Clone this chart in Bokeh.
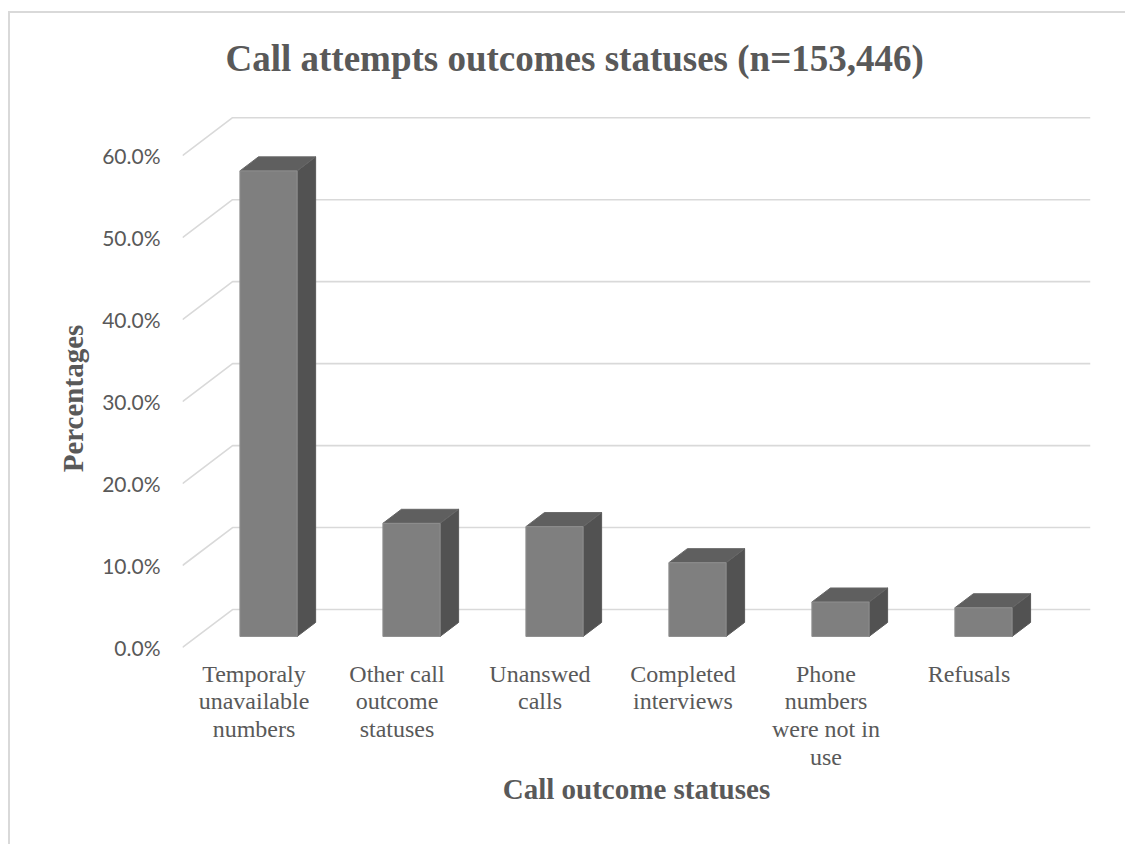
from bokeh.plotting import figure
from bokeh.models import FixedTicker, Range1d, ColumnDataSource
from bokeh.embed import file_html
from bokeh.resources import INLINE

# ---------------- data ----------------
categories = ["Temporaly unavailable numbers", "Other call outcome statuses",
              "Unanswed calls", "Completed interviews",
              "Phone numbers were not in use", "Refusals"]
category_tick_labels = ["Temporaly\nunavailable\nnumbers", "Other call\noutcome\nstatuses",
                        "Unanswed\ncalls", "Completed\ninterviews",
                        "Phone\nnumbers\nwere not in\nuse", "Refusals"]
values = [56.8, 13.8, 13.4, 9.0, 4.2, 3.5]
y_ticks = [0, 10, 20, 30, 40, 50, 60]
y_tick_labels = ["0.0%", "10.0%", "20.0%", "30.0%", "40.0%", "50.0%", "60.0%"]
title_text = "Call attempts outcomes statuses (n=153,446)"
x_title = "Call outcome statuses"
y_title = "Percentages"

# ---------------- 3-D projection settings (style) ----------------
DX = 0.35      # full depth, x units
DY = 4.63      # full depth, y units
F1 = 0.29      # bar front depth fraction
F2 = 0.66      # bar back depth fraction
HW = 0.2       # bar half width
TXT = "#595959"
SERIF = "Liberation Serif"

xs_idx = list(range(len(categories)))

p = figure(width=1125, height=844, output_backend="svg", toolbar_location=None,
           x_range=Range1d(-0.5, len(categories) - 0.5 + DX),
           y_range=Range1d(-5.25, 66),
           min_border_left=182, min_border_right=35,
           min_border_top=106, min_border_bottom=154)
p.background_fill_color = None
p.border_fill_color = None
p.outline_line_color = None
p.xgrid.visible = False
p.ygrid.visible = False
p.styles = {
    "background-image": "linear-gradient(#d9d9d9,#d9d9d9), linear-gradient(#d9d9d9,#d9d9d9)",
    "background-repeat": "no-repeat",
    "background-size": "2px 840px, 1120px 2px",
    "background-position": "8px 11px, 8px 11px",
}

# title
p.title.text = title_text
p.title.align = "left"
p.title.offset = 43
p.title.standoff = 56
p.title.text_font = SERIF
p.title.text_font_size = "37px"
p.title.text_font_style = "bold"
p.title.text_color = TXT

# gridlines: left side wall + back wall
gx, gy = [], []
x0 = -0.5
x1 = len(categories) - 0.5
for t in y_ticks:
    gx.append([x0, x0 + DX, x1 + DX])
    gy.append([t, t + DY, t + DY])
p.multi_line(gx, gy, line_color="#d9d9d9", line_width=1.6)

# bars
src = ColumnDataSource(dict(
    left=[i + F1 * DX - HW for i in xs_idx],
    right=[i + F1 * DX + HW for i in xs_idx],
    bottom=[F1 * DY for _ in xs_idx],
    top=[F1 * DY + v for v in values],
))
side_x, side_y, top_x, top_y = [], [], [], []
for i, v in zip(xs_idx, values):
    lf = i + F1 * DX - HW
    rf = i + F1 * DX + HW
    lb = i + F2 * DX - HW
    rb = i + F2 * DX + HW
    bf = F1 * DY
    bb = F2 * DY
    side_x.append([rf, rb, rb, rf])
    side_y.append([bf, bb, bb + v, bf + v])
    top_x.append([lf, rf, rb, lb])
    top_y.append([bf + v, bf + v, bb + v, bb + v])

p.patches(side_x, side_y, fill_color="#525252", line_color="#5a5a5a", line_width=1)
p.patches(top_x, top_y, fill_color="#5f5f5f", line_color="#676767", line_width=1)
p.quad(left="left", right="right", bottom="bottom", top="top", source=src,
       fill_color="#7f7f7f", line_color="#8f8f8f", line_width=1)

# x axis
xa = p.xaxis[0]
xa.ticker = FixedTicker(ticks=xs_idx)
xa.major_label_overrides = {i: lab for i, lab in zip(xs_idx, category_tick_labels)}
xa.axis_line_color = None
xa.major_tick_line_color = None
xa.minor_tick_line_color = None
xa.major_tick_out = 0
xa.major_tick_in = 0
xa.major_label_standoff = -30
xa.major_label_text_font = SERIF
xa.major_label_text_font_size = "24px"
xa.major_label_text_color = TXT
xa.major_label_text_line_height = 1.07
xa.axis_label = x_title
xa.axis_label_text_font = SERIF
xa.axis_label_text_font_size = "29px"
xa.axis_label_text_font_style = "bold"
xa.axis_label_text_color = TXT
xa.axis_label_standoff = 0

# y axis
ya = p.yaxis[0]
ya.ticker = FixedTicker(ticks=y_ticks)
ya.major_label_overrides = {t: lab for t, lab in zip(y_ticks, y_tick_labels)}
ya.axis_line_color = None
ya.major_tick_line_color = None
ya.minor_tick_line_color = None
ya.major_tick_out = 0
ya.major_tick_in = 0
ya.major_label_standoff = 22
ya.major_label_text_font = "Lato"
ya.major_label_text_font_size = "21px"
ya.major_label_text_color = TXT
ya.axis_label = y_title
ya.axis_label_text_font = SERIF
ya.axis_label_text_font_size = "29px"
ya.axis_label_text_font_style = "bold"
ya.axis_label_text_color = TXT
ya.axis_label_standoff = 10

open("out.html", "w").write(file_html(p, INLINE))
